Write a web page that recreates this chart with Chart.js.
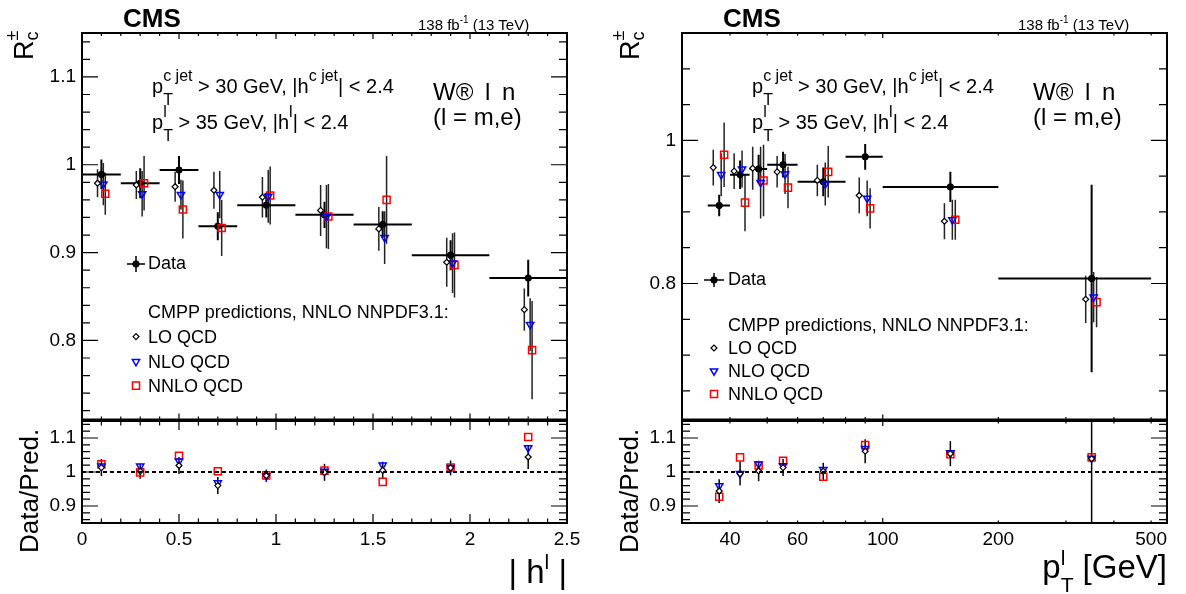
<!DOCTYPE html>
<html>
<head>
<meta charset="utf-8">
<title>R_c vs |eta| and pT</title>
<script src="https://cdn.jsdelivr.net/npm/chart.js@4.4.1/dist/chart.umd.min.js"></script>
<style>
  html, body { margin: 0; padding: 0; background: #fff; }
  body { position: relative; width: 1186px; height: 594px; overflow: hidden; font-family: "Liberation Sans", Arial, Helvetica, sans-serif; }
  canvas { position: absolute; }
  .lbl { position: absolute; white-space: nowrap; color: #000; }
</style>
</head>
<body>
<canvas id="etaMain" width="600" height="421" style="left:0px;top:0px"></canvas>
<canvas id="etaRatio" width="600" height="175" style="left:0px;top:419px"></canvas>
<canvas id="ptMain" width="586" height="421" style="left:600px;top:0px"></canvas>
<canvas id="ptRatio" width="586" height="175" style="left:600px;top:419px"></canvas>
<script>
// |eta| bins
const etaCenters = [0.1, 0.3, 0.5, 0.7, 0.95, 1.25, 1.55, 1.9, 2.3];
const etaLow = [0, 0.2, 0.4, 0.6, 0.8, 1.1, 1.4, 1.7, 2.1];
const etaHigh = [0.2, 0.4, 0.6, 0.8, 1.1, 1.4, 1.7, 2.1, 2.5];
const etaData = [0.989, 0.979, 0.994, 0.930, 0.954, 0.943, 0.932, 0.897, 0.871];
const etaDataErr = [0.017, 0.017, 0.016, 0.016, 0.014, 0.015, 0.015, 0.017, 0.021];
const etaLO = [0.979, 0.977, 0.975, 0.971, 0.963, 0.948, 0.927, 0.889, 0.835];
const etaLOErr = [0.016, 0.016, 0.017, 0.021, 0.023, 0.029, 0.025, 0.028, 0.024];
const etaNLO = [0.978, 0.967, 0.966, 0.966, 0.964, 0.941, 0.917, 0.888, 0.818];
const etaNLOErr = [0.024, 0.026, 0.017, 0.027, 0.030, 0.036, 0.030, 0.034, 0.030];
const etaNNLO = [0.967, 0.979, 0.949, 0.928, 0.965, 0.941, 0.960, 0.886, 0.789];
const etaNNLOErr = [0.024, 0.031, 0.033, 0.032, 0.033, 0.037, 0.050, 0.037, 0.056];
const etaRatioLO = [1.013, 1.002, 1.019, 0.960, 0.989, 0.999, 1.005, 1.012, 1.044];
const etaRatioNLO = [1.017, 1.017, 1.032, 0.968, 0.989, 1.002, 1.020, 1.013, 1.071];
const etaRatioNNLO = [1.023, 0.999, 1.048, 1.002, 0.990, 1.004, 0.971, 1.013, 1.103];
const etaRatioErr = [0.025, 0.022, 0.025, 0.025, 0.018, 0.025, 0.025, 0.022, 0.035];

// pT bins
const ptCenters = [37.5, 42.5, 47.5, 55, 70, 90, 150, 350];
const ptLow = [35, 40, 45, 50, 60, 80, 100, 200];
const ptHigh = [40, 45, 50, 60, 80, 100, 200, 500];
const ptData = [0.909, 0.952, 0.960, 0.966, 0.942, 0.977, 0.935, 0.807];
const ptDataErr = [0.015, 0.020, 0.020, 0.018, 0.020, 0.018, 0.021, 0.131];
const ptLO = [0.962, 0.957, 0.961, 0.956, 0.944, 0.923, 0.887, 0.778];
const ptLOErr = [0.025, 0.025, 0.030, 0.022, 0.022, 0.025, 0.025, 0.033];
const ptNLO = [0.952, 0.960, 0.941, 0.953, 0.939, 0.919, 0.889, 0.781];
const ptNLOErr = [0.030, 0.026, 0.050, 0.028, 0.030, 0.025, 0.028, 0.035];
const ptNNLO = [0.980, 0.913, 0.944, 0.934, 0.956, 0.905, 0.889, 0.774];
const ptNNLOErr = [0.045, 0.040, 0.050, 0.029, 0.036, 0.028, 0.028, 0.035];
const ptRatioLO = [0.944, 0.995, 1.003, 1.013, 1.002, 1.061, 1.054, 1.039];
const ptRatioNLO = [0.959, 0.995, 1.023, 1.018, 1.007, 1.069, 1.056, 1.040];
const ptRatioNNLO = [0.927, 1.043, 1.019, 1.033, 0.986, 1.079, 1.052, 1.043];
const ptRatioErr = [0.035, 0.035, 0.030, 0.025, 0.025, 0.035, 0.037, 0.200];

// tick labels
const etaMainTicks = [0.8, 0.9, 1, 1.1];
const ptMainTicks = [0.8, 1];
const ratioTicks = [0.9, 1, 1.1];
const etaXTicks = [0, 0.5, 1, 1.5, 2, 2.5];
const ptXTicks = [40, 60, 100, 200, 500];

const FONT = '"Liberation Sans", Arial, Helvetica, sans-serif';

function ticksRange(a, b, step) {
  const out = [];
  for (let v = a; v <= b + 1e-9; v += step) out.push(Math.round(v * 1000) / 1000);
  return out;
}
const fmt = (v) => String(Math.round(v * 100) / 100);

const markers = {
  data: { pointStyle: 'circle', radius: 3.2, rotation: 0, fill: '#000', stroke: '#000', borderWidth: 1 },
  lo: { pointStyle: 'rectRot', radius: 3, rotation: 0, fill: '#fff', stroke: '#000', borderWidth: 1.2 },
  nlo: { pointStyle: 'triangle', radius: 4.2, rotation: 180, fill: 'rgba(0,0,0,0)', stroke: '#0000ff', borderWidth: 1.5 },
  nnlo: { pointStyle: 'rect', radius: 5, rotation: 0, fill: 'rgba(0,0,0,0)', stroke: '#ff0000', borderWidth: 1.5 },
};

function series(kind, xs, ys, errs, extra) {
  const m = markers[kind];
  return Object.assign({
    data: xs.map((x, i) => ({ x: x, y: ys[i] })),
    pointStyle: m.pointStyle,
    pointRadius: m.radius,
    pointRotation: m.rotation,
    pointBackgroundColor: m.fill,
    pointBorderColor: m.stroke,
    pointBorderWidth: m.borderWidth,
    showLine: false,
    errY: errs,
    errColor: kind === 'data' ? '#000' : '#222',
    errWidth: kind === 'data' ? 2 : 1.5,
  }, extra || {});
}

// vertical (and horizontal bin-width) error bars
const errorBars = {
  id: 'errorBars',
  beforeDatasetsDraw(chart) {
    const { ctx, chartArea: a } = chart;
    const xs = chart.scales.x, ys = chart.scales.y;
    ctx.save();
    ctx.beginPath();
    ctx.rect(a.left, a.top, a.right - a.left, a.bottom - a.top);
    ctx.clip();
    chart.data.datasets.forEach((ds) => {
      if (!ds.errY && !ds.xLow) return;
      ctx.strokeStyle = ds.errColor;
      ctx.lineWidth = ds.errWidth;
      ds.data.forEach((p, i) => {
        const px = xs.getPixelForValue(p.x);
        const py = ys.getPixelForValue(p.y);
        ctx.beginPath();
        if (ds.errY) {
          ctx.moveTo(px, ys.getPixelForValue(p.y - ds.errY[i]));
          ctx.lineTo(px, ys.getPixelForValue(p.y + ds.errY[i]));
        }
        if (ds.xLow) {
          ctx.moveTo(xs.getPixelForValue(ds.xLow[i]), py);
          ctx.lineTo(xs.getPixelForValue(ds.xHigh[i]), py);
        }
        ctx.stroke();
      });
    });
    ctx.restore();
  },
};

// ROOT style frame with inward ticks on all four sides
const rootFrame = {
  id: 'rootFrame',
  afterDraw(chart, args, o) {
    const { ctx, chartArea: a } = chart;
    const xs = chart.scales.x, ys = chart.scales.y;
    const isMajor = (list, v) => list.some((m) => Math.abs(m - v) < 1e-6);
    ctx.save();
    ctx.strokeStyle = '#000';
    ctx.lineWidth = 1.2;
    ctx.beginPath();
    o.xMinor.forEach((v) => {
      const p = xs.getPixelForValue(v);
      const len = isMajor(o.xMajor, v) ? o.xLen[1] : o.xLen[0];
      ctx.moveTo(p, a.bottom); ctx.lineTo(p, a.bottom - len);
      ctx.moveTo(p, a.top); ctx.lineTo(p, a.top + len);
    });
    o.yMinor.forEach((v) => {
      const p = ys.getPixelForValue(v);
      const len = isMajor(o.yMajor, v) ? o.yLen[1] : o.yLen[0];
      ctx.moveTo(a.left, p); ctx.lineTo(a.left + len, p);
      ctx.moveTo(a.right, p); ctx.lineTo(a.right - len, p);
    });
    ctx.stroke();
    if (o.refLine !== undefined) {
      const p = ys.getPixelForValue(o.refLine);
      ctx.setLineDash([4, 3]);
      ctx.lineWidth = 1.8;
      ctx.beginPath();
      ctx.moveTo(a.left, p); ctx.lineTo(a.right, p);
      ctx.stroke();
      ctx.setLineDash([]);
    }
    ctx.lineWidth = 2;
    ctx.strokeRect(a.left, a.top, a.right - a.left, a.bottom - a.top);
    ctx.restore();
  },
};

// legend markers (text is HTML)
const rootLegend = {
  id: 'rootLegend',
  afterDraw(chart, args, o) {
    const ctx = chart.ctx;
    (o.items || []).forEach((it) => {
      const m = markers[it.kind];
      ctx.save();
      if (it.kind === 'data') {
        ctx.strokeStyle = '#000';
        ctx.lineWidth = 1.5;
        ctx.beginPath();
        ctx.moveTo(it.x - it.hw, it.y); ctx.lineTo(it.x + it.hw, it.y);
        ctx.moveTo(it.x, it.y - it.vh); ctx.lineTo(it.x, it.y + it.vh);
        ctx.stroke();
      }
      ctx.fillStyle = m.fill;
      ctx.strokeStyle = m.stroke;
      ctx.lineWidth = m.borderWidth;
      Chart.helpers.drawPoint(ctx, { pointStyle: m.pointStyle, radius: m.radius, rotation: m.rotation, borderWidth: m.borderWidth }, it.x, it.y);
      ctx.restore();
    });
  },
};

// axis labels must not push the frame around
function noPad(s) {
  s.paddingTop = 0;
  s.paddingBottom = 0;
  s.paddingLeft = 0;
  s.paddingRight = 0;
}

function makeChart(id, datasets, o) {
  const xAxis = {
    type: o.xType, min: o.xMin, max: o.xMax, display: o.showX,
    grid: { display: false, drawTicks: false }, border: { display: false },
    ticks: { color: '#000', font: { family: FONT, size: 19 }, padding: 5, autoSkip: false, maxRotation: 0, callback: fmt },
    afterBuildTicks: (s) => { s.ticks = o.xLabels.map((v) => ({ value: v })); },
    afterFit: (s) => { if (o.showX) s.height = o.xHeight; noPad(s); },
  };
  const yAxis = {
    type: 'linear', min: o.yMin, max: o.yMax, position: 'left',
    grid: { display: false, drawTicks: false }, border: { display: false },
    ticks: { color: '#000', font: { family: FONT, size: 19 }, padding: 6, autoSkip: false, callback: fmt },
    afterBuildTicks: (s) => { s.ticks = o.yLabels.map((v) => ({ value: v })); },
    afterFit: (s) => { s.width = 82; noPad(s); },
  };
  return new Chart(document.getElementById(id), {
    type: 'scatter',
    data: { datasets: datasets },
    options: {
      responsive: false,
      animation: false,
      devicePixelRatio: 1,
      events: [],
      layout: { padding: o.padding, autoPadding: false },
      plugins: {
        legend: { display: false },
        tooltip: { enabled: false },
        rootFrame: o.frame,
        rootLegend: { items: o.legend || [] },
      },
      scales: { x: xAxis, y: yAxis },
    },
    plugins: [errorBars, rootFrame, rootLegend],
  });
}

const etaXMinor = ticksRange(0.1, 2.4, 0.1);
const ptXMinor = [40, 50, 60, 70, 80, 90, 100, 200, 300, 400, 500];

// left: |eta|
makeChart('etaMain', [
  series('lo', etaCenters.map((x) => x - 0.02), etaLO, etaLOErr),
  series('nlo', etaCenters.map((x) => x + 0.01), etaNLO, etaNLOErr),
  series('nnlo', etaCenters.map((x) => x + 0.02), etaNNLO, etaNNLOErr),
  series('data', etaCenters, etaData, etaDataErr, { xLow: etaLow, xHigh: etaHigh }),
], {
  xType: 'linear', xMin: 0, xMax: 2.5, showX: false, xLabels: etaXTicks,
  yMin: 0.71, yMax: 1.15, yLabels: etaMainTicks,
  padding: { left: 0, top: 33, right: 33, bottom: 1.5 },
  frame: { xMinor: etaXMinor, xMajor: etaXTicks, xLen: [3, 6], yMinor: ticksRange(0.72, 1.14, 0.02), yMajor: etaMainTicks, yLen: [8, 16] },
  legend: [
    { kind: 'data', x: 136, y: 264, hw: 9, vh: 8 },
    { kind: 'lo', x: 136, y: 336.6 },
    { kind: 'nlo', x: 136, y: 361.6 },
    { kind: 'nnlo', x: 136, y: 385.6 },
  ],
});

makeChart('etaRatio', [
  series('lo', etaCenters, etaRatioLO, etaRatioErr, { errColor: '#000', errWidth: 1.5 }),
  series('nlo', etaCenters, etaRatioNLO, null),
  series('nnlo', etaCenters, etaRatioNNLO, null),
], {
  xType: 'linear', xMin: 0, xMax: 2.5, showX: true, xHeight: 71, xLabels: etaXTicks,
  yMin: 0.85, yMax: 1.15, yLabels: ratioTicks,
  padding: { left: 0, top: 2, right: 33, bottom: 0 },
  frame: { xMinor: etaXMinor, xMajor: etaXTicks, xLen: [4.5, 9], yMinor: ticksRange(0.86, 1.14, 0.02), yMajor: ratioTicks, yLen: [8, 16], refLine: 1 },
});

// right: pT
makeChart('ptMain', [
  series('lo', ptCenters.map((x) => x * 0.965), ptLO, ptLOErr),
  series('nlo', ptCenters.map((x) => x * 1.012), ptNLO, ptNLOErr),
  series('nnlo', ptCenters.map((x) => x * 1.03), ptNNLO, ptNNLOErr),
  series('data', ptCenters, ptData, ptDataErr, { xLow: ptLow, xHigh: ptHigh }),
], {
  xType: 'logarithmic', xMin: 30, xMax: 550, showX: false, xLabels: ptXTicks,
  yMin: 0.61, yMax: 1.15, yLabels: ptMainTicks,
  padding: { left: 0, top: 33, right: 19, bottom: 1.5 },
  frame: { xMinor: ptXMinor, xMajor: [100], xLen: [2.5, 5], yMinor: ticksRange(0.65, 1.1, 0.05), yMajor: ptMainTicks, yLen: [8, 16] },
  legend: [
    { kind: 'data', x: 114, y: 280, hw: 10, vh: 7 },
    { kind: 'lo', x: 114, y: 348 },
    { kind: 'nlo', x: 114, y: 371 },
    { kind: 'nnlo', x: 114, y: 394 },
  ],
});

makeChart('ptRatio', [
  series('lo', ptCenters, ptRatioLO, ptRatioErr, { errColor: '#000', errWidth: 1.5 }),
  series('nlo', ptCenters, ptRatioNLO, null),
  series('nnlo', ptCenters, ptRatioNNLO, null),
], {
  xType: 'logarithmic', xMin: 30, xMax: 550, showX: true, xHeight: 71, xLabels: ptXTicks,
  yMin: 0.85, yMax: 1.15, yLabels: ratioTicks,
  padding: { left: 0, top: 2, right: 19, bottom: 0 },
  frame: { xMinor: ptXMinor, xMajor: [100], xLen: [2.5, 5], yMinor: ticksRange(0.86, 1.14, 0.02), yMajor: ratioTicks, yLen: [8, 16], refLine: 1 },
});

// ---- text (HTML) ----
const meas = document.createElement('canvas').getContext('2d');
function tw(t, fs) {
  meas.font = fs + 'px ' + FONT;
  return meas.measureText(t).width;
}
// stacked superscript / subscript
function stack(sup, sub, fs, up, down) {
  const w = Math.max(sup ? tw(sup, fs) : 0, sub ? tw(sub, fs) : 0);
  const piece = (t, b) => `<span style="position:absolute;left:0;bottom:${b}px;font-size:${fs}px;line-height:${fs}px">${t}</span>`;
  return `<span style="display:inline-block;position:relative;width:${w}px;height:0">` +
    (sup ? piece(sup, up - 0.1535 * fs) : '') +
    (sub ? piece(sub, -down - 0.1535 * fs) : '') + '</span>';
}
function label(html, x, base, fs, o) {
  o = o || {};
  const d = document.createElement('div');
  d.className = 'lbl';
  d.innerHTML = html;
  d.style.fontSize = fs + 'px';
  d.style.lineHeight = fs + 'px';
  if (o.bold) d.style.fontWeight = 'bold';
  if (o.wordSpacing) d.style.wordSpacing = o.wordSpacing + 'px';
  if (o.rot) {
    d.style.left = (x - 0.8465 * fs) + 'px';
    d.style.top = base + 'px';
    d.style.transformOrigin = '0 0';
    d.style.transform = 'rotate(-90deg)';
  } else {
    d.style.left = x + 'px';
    d.style.top = (base - 0.8465 * fs) + 'px';
    if (o.right) d.style.transform = 'translateX(-100%)';
  }
  document.body.appendChild(d);
}

const cutLine1 = 'p' + stack('c jet', 'T', 16, 11.6, 11.7) + ' &gt; 30 GeV, |h' + stack('c jet', null, 16, 11.6, 0) + '| &lt; 2.4';
const cutLine2 = 'p' + stack('l', 'T', 16, 11.6, 11.7) + ' &gt; 35 GeV, |h' + stack('l', null, 16, 11.6, 0) + '| &lt; 2.4';
const lumi = '138 fb' + stack('-1', null, 10, 6, 0) + ' (13 TeV)';

[0, 600].forEach((dx) => {
  label('CMS', 123 + dx, 27, 26, { bold: true });
  label(lumi, 418 + dx, 29.5, 15);
  label(cutLine1, 152 + dx, 93.3, 20);
  label(cutLine2, 152 + dx, 129.3, 20);
  label('W® l n', 433 + dx, 100, 24, { wordSpacing: 5 });
  label('(l = m,e)', 433 + dx, 125, 24);
});

// axis titles
label('R' + stack('±', 'c', 18, 14.8, 5.4), 33.5, 60, 27, { rot: true });
label('R' + stack('±', 'c', 18, 14.8, 5.4), 640, 60, 27, { rot: true });
label('Data/Pred.', 38, 553, 26, { rot: true });
label('Data/Pred.', 638, 553, 26, { rot: true });
label('| h' + stack('l', null, 21, 14, 0) + ' |', 567, 583, 33, { right: true });
label('p' + stack('l', 'T', 21, 12.7, 14) + ' [GeV]', 1167, 577.5, 33, { right: true });

// legends
label('Data', 148, 269.3, 18);
label('CMPP predictions, NNLO NNPDF3.1:', 148, 318, 18);
label('LO QCD', 148, 343, 18);
label('NLO QCD', 148, 368, 18);
label('NNLO QCD', 148, 392, 18);

label('Data', 728, 285.7, 18);
label('CMPP predictions, NNLO NNPDF3.1:', 728, 331.5, 18);
label('LO QCD', 728, 354.5, 18);
label('NLO QCD', 728, 377.5, 18);
label('NNLO QCD', 728, 400.5, 18);
</script>
</body>
</html>
